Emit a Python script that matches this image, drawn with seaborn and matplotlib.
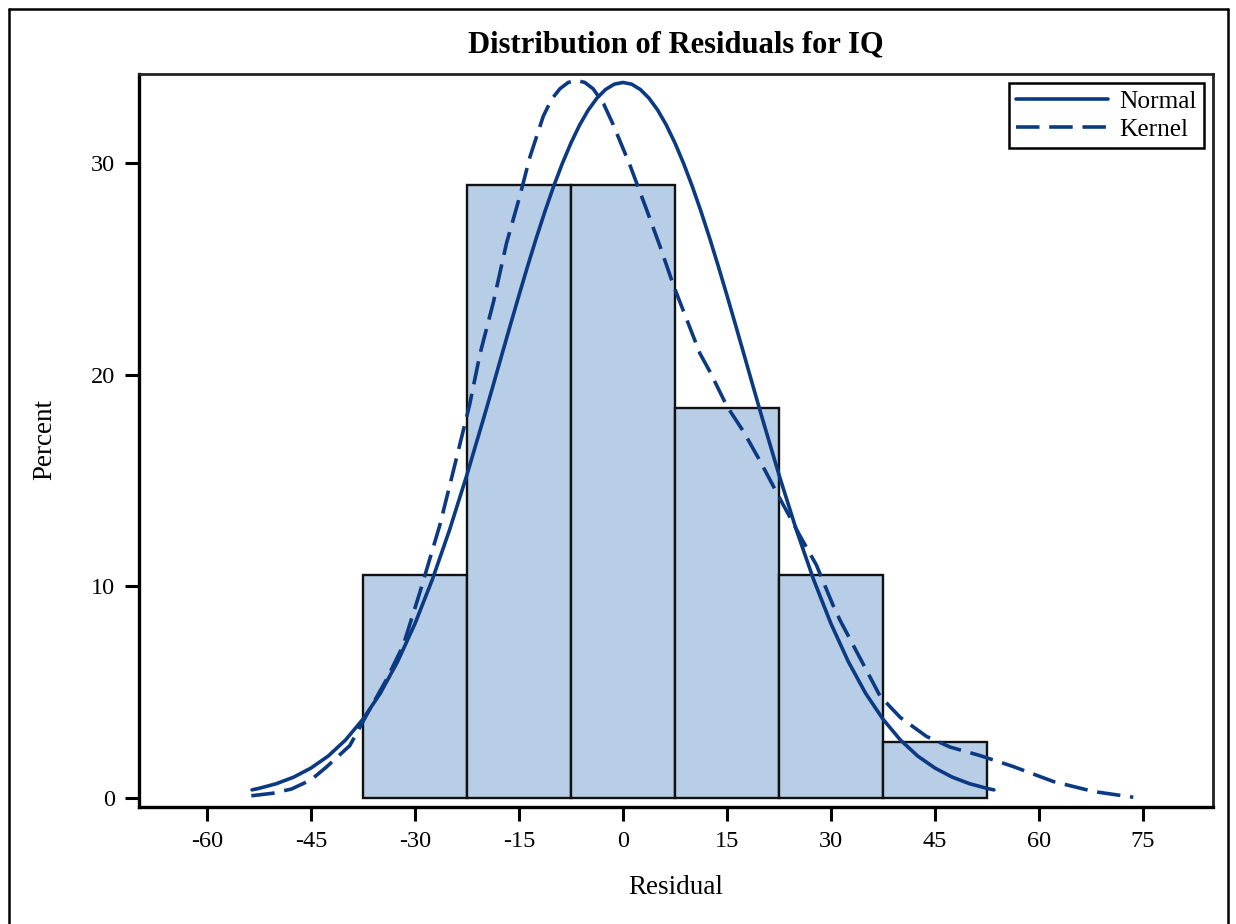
import matplotlib
matplotlib.use("Agg")
import matplotlib.pyplot as plt
from matplotlib.lines import Line2D
import seaborn as sns

# ---- data ----
bin_edges = [-37.5, -22.5, -7.5, 7.5, 22.5, 37.5, 52.5]
bin_centers = [-30, -15, 0, 15, 30, 45]
bin_percent = [10.53, 28.95, 28.95, 18.42, 10.53, 2.63]

normal_x = [-53.5, -52.5, -50, -47.5, -45, -42.5, -40, -37.5, -35, -32.5, -30, -27.5, -25,
            -22.5, -20, -18.75, -17.5, -16.25, -15, -13.75, -12.5, -11.25, -10, -8.75, -7.5,
            -6.25, -5, -3.75, -2.5, -1.25, 0, 1.25, 2.5, 3.75, 5, 6.25, 7.5, 8.75, 10, 11.25,
            12.5, 13.75, 15, 16.25, 17.5, 18.75, 20, 22.5, 25, 27.5, 30, 32.5, 35, 37.5, 40,
            42.5, 45, 47.5, 50, 52.5, 53.5]
normal_y = [0.38, 0.45, 0.67, 0.98, 1.41, 1.98, 2.74, 3.72, 4.94, 6.44, 8.23, 10.31, 12.67,
            15.27, 18.04, 19.46, 20.90, 22.33, 23.74, 25.12, 26.45, 27.71, 28.89, 29.97, 30.94,
            31.79, 32.50, 33.06, 33.47, 33.72, 33.80, 33.72, 33.47, 33.06, 32.50, 31.79, 30.94,
            29.97, 28.89, 27.71, 26.45, 25.12, 23.74, 22.33, 20.90, 19.46, 18.04, 15.27, 12.67,
            10.31, 8.23, 6.44, 4.94, 3.72, 2.74, 1.98, 1.41, 0.98, 0.67, 0.45, 0.38]

kernel_x = [-53.6, -50.5, -47.8, -45.0, -42.8, -39.4, -37.0, -34.1, -31.7, -29.3, -26.4, -24.5,
            -22.1, -20.6, -18.7, -16.8, -14.9, -13.4, -11.5, -10.3, -9.1, -7.9, -6.7, -5.5,
            -4.3, -2.8, -1.4, 1.0, 3.4, 5.3, 7.3, 9.2, 11.1, 12.6, 15.0, 17.4, 19.8, 22.7,
            25.5, 27.9, 30.3, 31.3, 34.2, 37.1, 40.0, 43.8, 47.2, 51.5, 56.3, 62.1, 67.9, 73.6]
kernel_y = [0.1, 0.22, 0.42, 0.85, 1.45, 2.47, 3.9, 5.6, 7.2, 9.7, 12.9, 15.4,
            18.6, 21.0, 23.4, 26.2, 28.4, 30.3, 32.2, 33.0, 33.5, 33.8, 33.9, 33.8,
            33.5, 32.8, 31.8, 29.9, 27.8, 26.1, 24.2, 22.6, 21.0, 20.1, 18.5, 17.3, 15.9, 14.1,
            12.4, 11.0, 9.1, 8.4, 6.6, 4.8, 3.8, 2.9, 2.4, 2.0, 1.48, 0.77, 0.3, 0.03]

x_ticks = [-60, -45, -30, -15, 0, 15, 30, 45, 60, 75]
y_ticks = [0, 10, 20, 30]

title = "Distribution of Residuals for IQ"
x_label = "Residual"
y_label = "Percent"

# ---- style ----
sns.set_theme(style="white")
plt.rcParams['font.family'] = ['Liberation Serif', 'DejaVu Serif']
plt.rcParams['text.color'] = 'black'
plt.rcParams['axes.labelcolor'] = 'black'
plt.rcParams['xtick.color'] = 'black'
plt.rcParams['ytick.color'] = 'black'
plt.rcParams['lines.solid_joinstyle'] = 'round'
plt.rcParams['lines.dash_joinstyle'] = 'round'

W, H = 1236, 924
fig = plt.figure(figsize=(W / 100, H / 100), dpi=100)
ax = fig.add_axes([139 / W, (H - 807) / H, (1213 - 139) / W, (807 - 74) / H])

bar_color = "#B8CDE6"
line_color = "#0B3A82"

sns.histplot(x=bin_centers, weights=bin_percent, bins=bin_edges, stat="count",
             color=bar_color, alpha=1.0, edgecolor="#111111", linewidth=1.7, ax=ax)

sns.lineplot(x=normal_x, y=normal_y, sort=False, color=line_color, lw=2.6, ax=ax,
             label="Normal")
sns.lineplot(x=kernel_x, y=kernel_y, sort=False, color=line_color, lw=2.6, ax=ax,
             label="Kernel")
ax.lines[-1].set_dashes((6.5, 2.7))

ax.set_xlim(-69.8, 85.1)
ax.set_ylim(-0.43, 34.2)
ax.set_xticks(x_ticks)
ax.set_yticks(y_ticks)
ax.set_xticklabels([str(t) for t in x_ticks])
ax.set_yticklabels([str(t) for t in y_ticks])
ax.tick_params(axis="both", which="major", direction="out", length=10, width=2.2,
               color="black", labelcolor="black", labelsize=17.5, pad=7,
               bottom=True, left=True)
ax.set_xlabel("")
ax.set_ylabel("")

for side in ["left", "bottom"]:
    ax.spines[side].set_linewidth(2.4)
    ax.spines[side].set_color("black")
for side in ["top", "right"]:
    ax.spines[side].set_linewidth(2.0)
    ax.spines[side].set_color("#222222")
    ax.spines[side].set_visible(True)

leg = ax.legend(loc="upper right", fontsize=18.3, handlelength=3.6, frameon=True,
                fancybox=False, edgecolor="black", borderpad=0.3, labelspacing=0.18,
                handletextpad=0.45, borderaxespad=0.35)
leg.get_frame().set_linewidth(1.8)
leg.get_frame().set_alpha(1)
leg.legend_handles[1].set_dashes((6.5, 2.7))
for t in leg.get_texts():
    t.set_color("black")

fig.text(676 / W, 1 - 45 / H, title, ha="center", va="center", fontsize=22,
         fontweight="bold", color="black")
fig.text(676 / W, 1 - 888 / H, x_label, ha="center", va="center", fontsize=19.5,
         color="black")
fig.text(45 / W, 1 - 440 / H, y_label, ha="center", va="center", fontsize=19.5,
         rotation=90, color="black")

# outer border of the image
for xs, ys in [([9 / W, 9 / W], [0, 1 - 9 / H]),
               ([9 / W, 1228 / W], [1 - 9 / H, 1 - 9 / H]),
               ([1228 / W, 1228 / W], [0, 1 - 9 / H])]:
    fig.add_artist(Line2D(xs, ys, transform=fig.transFigure, color="black", lw=1.8))

fig.savefig("out.png", dpi=100)
